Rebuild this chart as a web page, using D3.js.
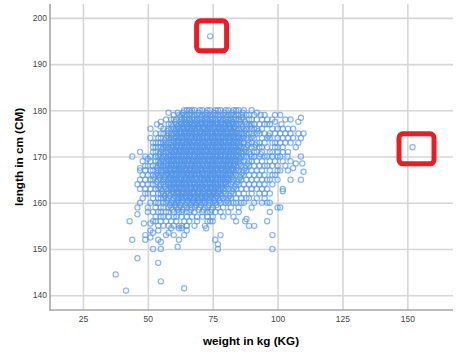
<!DOCTYPE html>
<html>
<head>
<meta charset="utf-8">
<script src="https://d3js.org/d3.v7.min.js"></script>
<style>
  html, body { margin: 0; padding: 0; background: #fff; }
  text { font-family: "Liberation Sans", Arial, sans-serif; }
</style>
</head>
<body>
<div id="chart"></div>
<script>
// Labels
var xTitle = "weight in kg (KG)";
var yTitle = "length in cm (CM)";
var xTicks = [25, 50, 75, 100, 125, 150];
var yTicks = [140, 150, 160, 170, 180, 190, 200];

// The two flagged cases (weight, length)
var flaggedWeights = [74, 152];
var flaggedLengths = [196, 172];

// Sparse cases around the cloud, read one by one
var looseWeights = [37.6, 41.6, 55, 64, 54, 46, 44, 49, 52, 55, 61.5, 54, 55, 62, 43, 49, 51, 51, 52, 54, 57, 58, 60, 59, 62, 63, 64, 65, 65, 62, 46, 46, 48.5, 51, 52, 76, 77, 77, 78, 72.5, 72, 98, 98, 96, 91, 89, 87.5, 88, 84, 83, 85, 97, 100, 101, 96, 97, 86, 83, 89, 102, 102, 105, 109, 109, 108, 105, 103, 101, 99, 93.5, 92, 101.5, 99, 106, 110, 108, 104, 109, 108, 107, 109, 107, 109.5, 110, 105, 104, 106, 103.8, 104, 44, 47, 48, 47, 47, 49, 51, 51, 53, 53.5, 55, 55, 57, 58, 52, 52, 52, 54, 50];
var looseLengths = [144.5, 141, 143, 141.5, 147, 148, 152, 152, 150, 150, 150.5, 152, 151.5, 152, 156, 153, 152.5, 154, 153.5, 154, 153, 153.5, 153, 154.5, 154.5, 154.5, 153, 154, 155, 155, 157.5, 159, 155.5, 155.5, 156, 152, 151, 150, 153, 154.5, 155, 153, 150, 156, 155, 155, 156, 156.5, 156, 157, 158, 158, 159, 159, 160, 160, 160, 160, 161, 163, 162.5, 165, 165, 178.4, 177.5, 178, 178, 179, 179, 179, 179.5, 177, 177.5, 176, 175, 175, 176, 174, 173, 172, 170, 168.5, 168.5, 166.7, 169, 167, 167.5, 170, 171, 170, 171, 169, 167.5, 167, 168, 176, 174, 175, 177, 177.5, 176.5, 178, 179.5, 173, 172, 171, 173, 169.5];

// The cloud, weights read row by row at each recorded length
var rowLengths = [180, 179.5, 179, 178.5, 178, 177.5, 177, 176.5, 176, 175.5, 175, 174.5, 174, 173.5, 173, 172.5, 172, 171.5, 171, 170.5, 170, 169.5, 169, 168.5, 168, 167.5, 167, 166.5, 166, 165.5, 165, 164.5, 164, 163.5, 163, 162.5, 162, 161.5, 161, 160.5, 160, 159.5, 159, 158.5, 158, 157, 156, 155];
var rowWeights = [
  [64, 65, 66, 67, 68, 70, 71, 73, 74, 76, 77, 78, 80, 81, 83, 84, 85, 87, 90],
  [61.5, 63.5, 66.5, 69.5, 72.5, 75.5, 79.5, 82.5, 86.5],
  [60, 62, 63, 64, 65, 66, 67, 68, 69, 70, 71, 72, 73, 74, 75, 76, 77, 78, 79, 80, 81, 82, 83, 84, 85, 86, 88, 89, 91, 95],
  [62.5, 64.5, 67.5, 70.5, 72.5, 74.5, 77.5, 80.5, 83.5, 86.5],
  [59, 60, 61, 63, 64, 65, 66, 67, 68, 69, 70, 71, 72, 73, 74, 75, 76, 77, 78, 79, 80, 81, 82, 83, 84, 85, 86, 87, 89, 90, 92, 94, 96, 98],
  [60.5, 62.5, 64.5, 66.5, 68.5, 70.5, 72.5, 74.5, 76.5, 78.5, 80.5, 82.5, 85.5, 87.5],
  [58, 59, 61, 62, 63, 64, 65, 66, 67, 68, 69, 70, 71, 72, 73, 74, 75, 76, 77, 78, 79, 80, 81, 82, 83, 84, 85, 86, 88, 89, 90, 91, 93, 95, 96, 97],
  [59.5, 61.5, 63.5, 65.5, 67.5, 69.5, 71.5, 73.5, 75.5, 77.5, 79.5, 81.5, 83.5, 86.5, 89.5],
  [56, 58, 59, 60, 61, 62, 63, 64, 65, 66, 67, 68, 69, 70, 71, 72, 73, 74, 75, 76, 77, 78, 79, 80, 81, 82, 83, 84, 85, 86, 87, 88, 90, 91, 92, 94, 98, 100, 102],
  [57.5, 60.5, 62.5, 64.5, 66.5, 68.5, 70.5, 72.5, 74.5, 76.5, 78.5, 80.5, 82.5, 84.5, 87.5, 92.5],
  [55, 56, 58, 59, 60, 61, 62, 63, 64, 65, 66, 67, 68, 69, 70, 71, 72, 73, 74, 75, 76, 77, 78, 79, 80, 81, 82, 83, 84, 85, 86, 87, 88, 89, 90, 92, 93, 95, 97, 99, 101, 103, 105],
  [57.5, 59, 61, 63, 65, 67, 69, 71, 73, 75, 77, 79, 81, 83, 85, 87, 90.5, 96.5],
  [54, 55, 57, 58, 59, 60, 61, 62, 63, 64, 65, 66, 67, 68, 69, 70, 71, 72, 73, 74, 75, 76, 77, 78, 79, 80, 81, 82, 83, 84, 85, 86, 87, 88, 90, 91, 94, 96, 97, 100, 102, 104, 106],
  [56.5, 59.5, 61.5, 63.5, 65.5, 67.5, 69.5, 71.5, 73.5, 75.5, 77.5, 79.5, 81.5, 83.5, 85.5, 88.5],
  [53, 55, 56, 57, 58, 59, 60, 61, 62, 63, 64, 65, 66, 67, 68, 69, 70, 71, 72, 73, 74, 75, 76, 77, 78, 79, 80, 81, 82, 83, 84, 85, 86, 87, 89, 90, 92, 93, 95, 98, 99, 101, 103, 105],
  [56.5, 57, 59, 61, 63, 65, 67, 69, 71, 73, 75, 77, 79, 81, 83, 85.5, 88.5, 91.5],
  [53, 54, 55, 56, 57, 58, 59, 60, 61, 62, 63, 64, 65, 66, 67, 68, 69, 70, 71, 72, 73, 74, 75, 76, 77, 78, 79, 80, 81, 82, 83, 84, 85, 86, 87, 88, 90, 91, 93, 94, 96, 99, 100, 102],
  [55.5, 58.5, 60.5, 62.5, 64.5, 66.5, 68.5, 70.5, 72.5, 74.5, 76.5, 78.5, 80.5, 82.5, 84.5, 87.5],
  [53, 55, 56, 57, 58, 59, 60, 61, 62, 63, 64, 65, 66, 67, 68, 69, 70, 71, 72, 73, 74, 75, 76, 77, 78, 79, 80, 81, 82, 83, 84, 85, 86, 87, 88, 89, 91, 92, 94, 97, 98, 100, 102],
  [54.5, 56, 58, 60, 62, 64, 66, 68, 70, 72, 74, 76, 78, 80, 82, 84, 86.5, 89.5, 93.5],
  [49, 51, 53, 54, 55, 56, 57, 58, 59, 60, 61, 62, 63, 64, 65, 66, 67, 68, 69, 70, 71, 72, 73, 74, 75, 76, 77, 78, 79, 80, 81, 82, 83, 84, 85, 86, 87, 88, 90, 91, 93, 95, 96, 98, 100, 101],
  [55.5, 57.5, 59.5, 61.5, 63.5, 65.5, 67.5, 69.5, 71.5, 73.5, 75.5, 77.5, 79.5, 81.5, 83.5, 85.5],
  [51, 53, 54, 55, 56, 57, 58, 59, 60, 61, 62, 63, 64, 65, 66, 67, 68, 69, 70, 71, 72, 73, 74, 75, 76, 77, 78, 79, 80, 81, 82, 83, 84, 85, 86, 87, 89, 90, 92, 94, 97, 99, 102],
  [54.5, 55, 57, 59, 61, 63, 65, 67, 69, 71, 73, 75, 77, 79, 81, 83, 85.5, 88.5],
  [50, 52, 53, 54, 55, 56, 57, 58, 59, 60, 61, 62, 63, 64, 65, 66, 67, 68, 69, 70, 71, 72, 73, 74, 75, 76, 77, 78, 79, 80, 81, 82, 83, 84, 85, 86, 88, 89, 91, 93, 95, 96, 98, 100, 103],
  [53.5, 56.5, 58.5, 60.5, 62.5, 64.5, 66.5, 68.5, 70.5, 72.5, 74.5, 76.5, 78.5, 80.5, 82.5, 84.5, 87.5],
  [49, 51, 52, 54, 55, 56, 57, 58, 59, 60, 61, 62, 63, 64, 65, 66, 67, 68, 69, 70, 71, 72, 73, 74, 75, 76, 77, 78, 79, 80, 81, 82, 83, 84, 85, 87, 88, 90, 92, 94, 97, 100, 101],
  [53.5, 55, 57, 59, 61, 63, 65, 67, 69, 71, 73, 75, 77, 79, 81, 83.5, 86.5],
  [48, 50, 52, 53, 54, 55, 56, 57, 58, 59, 60, 61, 62, 63, 64, 65, 66, 67, 68, 69, 70, 71, 72, 73, 74, 75, 76, 77, 78, 79, 80, 81, 82, 83, 84, 86, 87, 89, 91, 93, 95, 98, 99],
  [52.5, 54.5, 56.5, 58.5, 60.5, 62.5, 64.5, 66.5, 68.5, 70.5, 72.5, 74.5, 76.5, 78.5, 80.5, 82.5, 85.5],
  [47, 49, 51, 52, 54, 55, 56, 57, 58, 59, 60, 61, 62, 63, 64, 65, 66, 67, 68, 69, 70, 71, 72, 73, 74, 75, 76, 77, 78, 79, 80, 81, 82, 83, 85, 86, 88, 90, 92, 94, 96, 97, 100],
  [53.5, 56, 58, 60, 62, 64, 66, 68, 70, 72, 74, 76, 78, 80, 82.5, 84.5],
  [46, 48, 50, 52, 53, 55, 56, 57, 58, 59, 60, 61, 62, 63, 64, 65, 66, 67, 68, 69, 70, 71, 72, 73, 74, 75, 76, 77, 78, 79, 80, 81, 82, 84, 85, 87, 89, 91, 93, 95, 98],
  [54.5, 56.5, 58.5, 60.5, 62.5, 64.5, 66.5, 68.5, 70.5, 72.5, 74.5, 76.5, 78.5, 80.5, 83.5],
  [47, 49, 51, 53, 54, 55, 57, 58, 59, 60, 61, 62, 63, 64, 65, 66, 67, 68, 69, 70, 71, 72, 73, 74, 75, 76, 77, 78, 79, 80, 81, 83, 84, 86, 88, 90, 92, 94, 96],
  [55.5, 57.5, 59.5, 61.5, 63.5, 65.5, 67.5, 69.5, 71.5, 73.5, 75.5, 77.5, 79.5, 82.5],
  [49, 50, 52, 54, 55, 56, 57, 58, 59, 60, 61, 62, 63, 64, 65, 66, 67, 68, 69, 70, 71, 72, 73, 74, 75, 76, 77, 78, 79, 80, 82, 83, 85, 87, 90, 93, 95, 97],
  [56.5, 58.5, 60.5, 62.5, 64.5, 66.5, 68.5, 70.5, 72.5, 74.5, 76.5, 78.5, 81.5],
  [48, 52, 54, 55, 56, 57, 58, 60, 61, 62, 63, 64, 65, 66, 67, 68, 69, 70, 71, 72, 73, 74, 75, 76, 77, 78, 79, 81, 82, 84, 86, 88, 92, 95],
  [57.5, 59.5, 61.5, 63.5, 65.5, 67.5, 69.5, 71.5, 73.5, 75.5, 77.5, 80.5],
  [47, 51, 53, 54, 56, 57, 59, 60, 61, 62, 63, 65, 66, 67, 68, 69, 70, 71, 72, 74, 75, 76, 78, 80, 81, 84, 87, 91, 94],
  [58.5, 60.5, 62.5, 64.5, 66.5, 68.5, 70.5, 73.5, 76.5],
  [50, 53, 55, 56, 58, 59, 61, 62, 64, 65, 67, 68, 70, 72, 73, 75, 77, 79, 82, 85, 90],
  [59.5, 61.5, 63.5, 66.5, 69.5, 71.5, 74.5],
  [50, 52, 54, 55, 57, 58, 60, 62, 63, 65, 66, 68, 71, 73, 74, 76, 78, 81],
  [53, 55, 56, 58, 60, 61, 63, 65, 67, 69, 71, 73, 75, 79],
  [53, 55, 57, 59, 61, 64, 66, 69, 73, 74, 75],
  [54, 56, 58, 60, 63, 65, 68]
];

// Heart of the cloud, where the circles pile up into a solid patch
var coreLengths = [177.25, 176.25, 175.25, 174.25, 173.25, 172.25, 171.25, 170.25, 169.25, 168.25, 167.25, 166.25, 165.25, 164.25, 163.25, 162.25, 161.25];
var coreWeights = [
  [63.2, 64.7, 66.2, 67.7, 69.2, 70.7, 72.2, 73.7, 75.2, 76.7, 78.2, 79.7, 81.2, 82.7],
  [62.2, 63.7, 65.2, 66.7, 68.2, 69.7, 71.2, 72.7, 74.2, 75.7, 77.2, 78.7, 80.2, 81.7, 83.2],
  [61.2, 62.7, 64.2, 65.7, 67.2, 68.7, 70.2, 71.7, 73.2, 74.7, 76.2, 77.7, 79.2, 80.7, 82.2, 83.7],
  [60.7, 62.2, 63.7, 65.2, 66.7, 68.2, 69.7, 71.2, 72.7, 74.2, 75.7, 77.2, 78.7, 80.2, 81.7, 83.2, 84.7],
  [60.2, 61.7, 63.2, 64.7, 66.2, 67.7, 69.2, 70.7, 72.2, 73.7, 75.2, 76.7, 78.2, 79.7, 81.2, 82.7, 84.2],
  [59.7, 61.2, 62.7, 64.2, 65.7, 67.2, 68.7, 70.2, 71.7, 73.2, 74.7, 76.2, 77.7, 79.2, 80.7, 82.2, 83.7, 85.2],
  [59.2, 60.7, 62.2, 63.7, 65.2, 66.7, 68.2, 69.7, 71.2, 72.7, 74.2, 75.7, 77.2, 78.7, 80.2, 81.7, 83.2, 84.7],
  [58.7, 60.2, 61.7, 63.2, 64.7, 66.2, 67.7, 69.2, 70.7, 72.2, 73.7, 75.2, 76.7, 78.2, 79.7, 81.2, 82.7, 84.2],
  [58.2, 59.7, 61.2, 62.7, 64.2, 65.7, 67.2, 68.7, 70.2, 71.7, 73.2, 74.7, 76.2, 77.7, 79.2, 80.7, 82.2, 83.7],
  [57.7, 59.2, 60.7, 62.2, 63.7, 65.2, 66.7, 68.2, 69.7, 71.2, 72.7, 74.2, 75.7, 77.2, 78.7, 80.2, 81.7, 83.2],
  [57.2, 58.7, 60.2, 61.7, 63.2, 64.7, 66.2, 67.7, 69.2, 70.7, 72.2, 73.7, 75.2, 76.7, 78.2, 79.7, 81.2, 82.7],
  [57.7, 59.2, 60.7, 62.2, 63.7, 65.2, 66.7, 68.2, 69.7, 71.2, 72.7, 74.2, 75.7, 77.2, 78.7, 80.2, 81.7],
  [58.2, 59.7, 61.2, 62.7, 64.2, 65.7, 67.2, 68.7, 70.2, 71.7, 73.2, 74.7, 76.2, 77.7, 79.2, 80.7],
  [58.7, 60.2, 61.7, 63.2, 64.7, 66.2, 67.7, 69.2, 70.7, 72.2, 73.7, 75.2, 76.7, 78.2, 79.7],
  [59.2, 60.7, 62.2, 63.7, 65.2, 66.7, 68.2, 69.7, 71.2, 72.7, 74.2, 75.7, 77.2],
  [60.2, 61.7, 63.2, 64.7, 66.2, 67.7, 69.2, 70.7, 72.2, 73.7, 75.2, 76.7],
  [61.7, 63.2, 64.7, 66.2, 67.7, 69.2, 70.7, 72.2, 73.7]
];

var width = 459, height = 361;
var left = 50, right = 453, top_ = 4, bottom = 310;

function init() {
    var svg = d3.select("#chart").append("svg")
        .attr("width", width)
        .attr("height", height)
        .style("display", "block");

    var xScale = d3.scaleLinear().domain([12.3, 167.6]).range([left, right]);
    var yScale = d3.scaleLinear().domain([136.8, 203]).range([bottom, top_]);

    // Axes double as the grid
    var xAxis = d3.axisBottom(xScale).tickValues(xTicks).tickSize(-(bottom - top_)).tickPadding(6);
    var yAxis = d3.axisLeft(yScale).tickValues(yTicks).tickSize(-(right - left)).tickPadding(3);

    var gx = svg.append("g").attr("transform", "translate(0," + bottom + ")").call(xAxis);
    var gy = svg.append("g").attr("transform", "translate(" + left + ",0)").call(yAxis);

    [gx, gy].forEach(function(g) {
        g.select(".domain").remove();
        g.selectAll(".tick line").attr("stroke", "#d6d6d6").attr("stroke-width", 1.6);
        g.selectAll(".tick text").attr("fill", "#444").style("font-size", "8.5px");
    });

    svg.append("line").attr("x1", left).attr("x2", left).attr("y1", top_).attr("y2", bottom + 1)
        .attr("stroke", "#a6a6a6").attr("stroke-width", 1.6);
    svg.append("line").attr("x1", left).attr("x2", right).attr("y1", bottom).attr("y2", bottom)
        .attr("stroke", "#a6a6a6").attr("stroke-width", 1.6);

    // Join the rows, the loose cases and the flagged ones into a single list of cases
    var cases = [];
    rowLengths.forEach(function(len, i) {
        rowWeights[i].forEach(function(w) { cases.push([w, len]); });
    });
    coreLengths.forEach(function(len, i) {
        coreWeights[i].forEach(function(w) { cases.push([w, len]); });
    });
    looseWeights.forEach(function(w, i) { cases.push([w, looseLengths[i]]); });
    flaggedWeights.forEach(function(w, i) { cases.push([w, flaggedLengths[i]]); });

    svg.append("g").selectAll("circle")
        .data(cases)
        .enter().append("circle")
        .attr("cx", function(d) { return xScale(d[0]); })
        .attr("cy", function(d) { return yScale(d[1]); })
        .attr("r", 2.6)
        .attr("fill", "none")
        .attr("stroke", "#5596e8")
        .attr("stroke-opacity", 0.7)
        .attr("stroke-width", 1.2);

    // Red boxes around the flagged cases
    var boxes = [[-16, -18, 35, 35], [-16, -16, 40, 35]];
    flaggedWeights.forEach(function(w, i) {
        var b = boxes[i];
        svg.append("rect")
            .attr("x", xScale(w) + b[0] + 2.5)
            .attr("y", yScale(flaggedLengths[i]) + b[1] + 2.5)
            .attr("width", b[2] - 5)
            .attr("height", b[3] - 5)
            .attr("rx", 4)
            .attr("fill", "none")
            .attr("stroke", "#ed1c24")
            .attr("stroke-width", 5);
    });

    // Axis titles
    svg.append("text")
        .attr("x", 251).attr("y", 345)
        .attr("text-anchor", "middle")
        .style("font-size", "11.7px")
        .style("font-weight", "bold")
        .text(xTitle);

    svg.append("text")
        .attr("transform", "translate(23,157) rotate(-90)")
        .attr("text-anchor", "middle")
        .style("font-size", "11.7px")
        .style("font-weight", "bold")
        .text(yTitle);
}

window.onload = init;
</script>
</body>
</html>
